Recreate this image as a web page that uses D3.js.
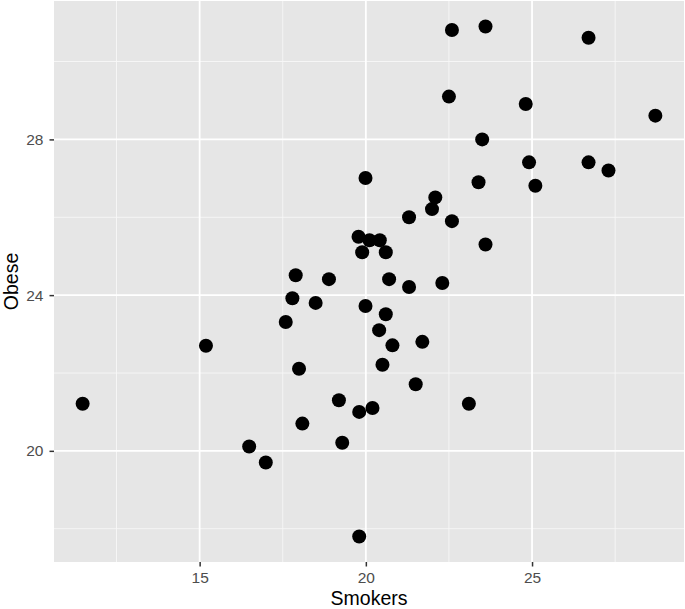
<!DOCTYPE html>
<html>
<head>
<meta charset="utf-8">
<script src="https://cdn.jsdelivr.net/npm/d3@7"></script>
<style>
  body { margin: 0; background: #fff; }
  text { font-family: "Liberation Sans", Arial, sans-serif; }
</style>
</head>
<body>
<div id="container"></div>
<script>
// data
let smokers = [11.48, 15.19, 16.49, 16.99, 17.59, 17.79, 17.89, 17.99, 18.09, 18.49,
               18.89, 19.19, 19.29, 19.78, 19.80, 19.80, 19.89, 19.99, 19.99, 20.11,
               20.20, 20.42, 20.40, 20.50, 20.60, 20.60, 20.70, 20.80, 21.30, 21.30,
               21.50, 21.70, 21.99, 22.09, 22.30, 22.59, 22.50, 22.59, 23.10, 23.39,
               23.50, 23.60, 23.60, 24.81, 24.91, 25.10, 26.70, 26.70, 27.30, 28.71];
let obese   = [21.21, 22.70, 20.11, 19.70, 23.31, 23.92, 24.51, 22.11, 20.70, 23.80,
               24.41, 21.30, 20.21, 25.50, 21.00, 17.80, 25.10, 27.01, 23.72, 25.41,
               21.10, 25.41, 23.10, 22.21, 25.10, 23.51, 24.41, 22.71, 24.21, 26.00,
               21.71, 22.80, 26.21, 26.51, 24.31, 30.81, 29.10, 25.90, 21.21, 26.90,
               28.00, 30.90, 25.30, 28.91, 27.41, 26.81, 30.61, 27.41, 27.20, 28.61];

let xMajor = [15, 20, 25];
let xMinor = [12.5, 17.5, 22.5, 27.5];
let yMajor = [20, 24, 28];
let yMinor = [18, 22, 26, 30];

let margin = {top: 1, right: 1, bottom: 47, left: 54},
    width = 685 - margin.left - margin.right,
    height = 609 - margin.top - margin.bottom;

let svg = d3.select('#container').append("svg")
    .attr("width", 685)
    .attr("height", 609);

let viz = svg.append("g")
    .attr("transform", "translate(" + margin.left + "," + margin.top + ")");

// ggplot style 5% expansion
function expand(ext) {
  let pad = (ext[1] - ext[0]) * 0.05;
  return [ext[0] - pad, ext[1] + pad];
}

let xScale = d3.scaleLinear().domain(expand(d3.extent(smokers))).range([0, width]);
let yScale = d3.scaleLinear().domain(expand(d3.extent(obese))).range([height, 0]);

viz.append("rect")
    .attr("width", width)
    .attr("height", height)
    .attr("fill", "#e6e6e6");

// grid
viz.selectAll(".xminor").data(xMinor).enter().append("line")
    .attr("x1", d => xScale(d)).attr("x2", d => xScale(d))
    .attr("y1", 0).attr("y2", height)
    .attr("stroke", "#f7f7f7").attr("stroke-width", 0.9);
viz.selectAll(".yminor").data(yMinor).enter().append("line")
    .attr("y1", d => yScale(d)).attr("y2", d => yScale(d))
    .attr("x1", 0).attr("x2", width)
    .attr("stroke", "#f7f7f7").attr("stroke-width", 0.9);
viz.selectAll(".xmajor").data(xMajor).enter().append("line")
    .attr("x1", d => xScale(d)).attr("x2", d => xScale(d))
    .attr("y1", 0).attr("y2", height)
    .attr("stroke", "#fff").attr("stroke-width", 1.8);
viz.selectAll(".ymajor").data(yMajor).enter().append("line")
    .attr("y1", d => yScale(d)).attr("y2", d => yScale(d))
    .attr("x1", 0).attr("x2", width)
    .attr("stroke", "#fff").attr("stroke-width", 1.8);

// axes
let xAxis = d3.axisBottom(xScale).tickValues(xMajor).tickSize(4.5).tickPadding(5.5);
let yAxis = d3.axisLeft(yScale).tickValues(yMajor).tickSize(4.5).tickPadding(6);

let gx = viz.append("g")
    .attr("transform", "translate(0," + height + ")")
    .call(xAxis);
let gy = viz.append("g").call(yAxis);

[gx, gy].forEach(g => {
  g.select(".domain").remove();
  g.selectAll(".tick line").attr("stroke", "#333").attr("stroke-width", 1.5);
  g.selectAll(".tick text")
      .attr("fill", "#4d4d4d")
      .style("font-size", "15.5px")
      .style("font-family", "'Liberation Sans', Arial, sans-serif");
});

// points
viz.selectAll(".pt").data(smokers).enter().append("circle")
    .attr("class", "pt")
    .attr("cx", d => xScale(d))
    .attr("cy", (d, i) => yScale(obese[i]))
    .attr("r", 7)
    .attr("fill", "#000");

// axis titles
svg.append("text")
    .attr("x", margin.left + width / 2)
    .attr("y", 605)
    .attr("text-anchor", "middle")
    .style("font-size", "19.5px")
    .text("Smokers");

svg.append("text")
    .attr("transform", "translate(18," + (margin.top + height / 2) + ") rotate(-90)")
    .attr("text-anchor", "middle")
    .style("font-size", "19.5px")
    .text("Obese");
</script>
</body>
</html>
